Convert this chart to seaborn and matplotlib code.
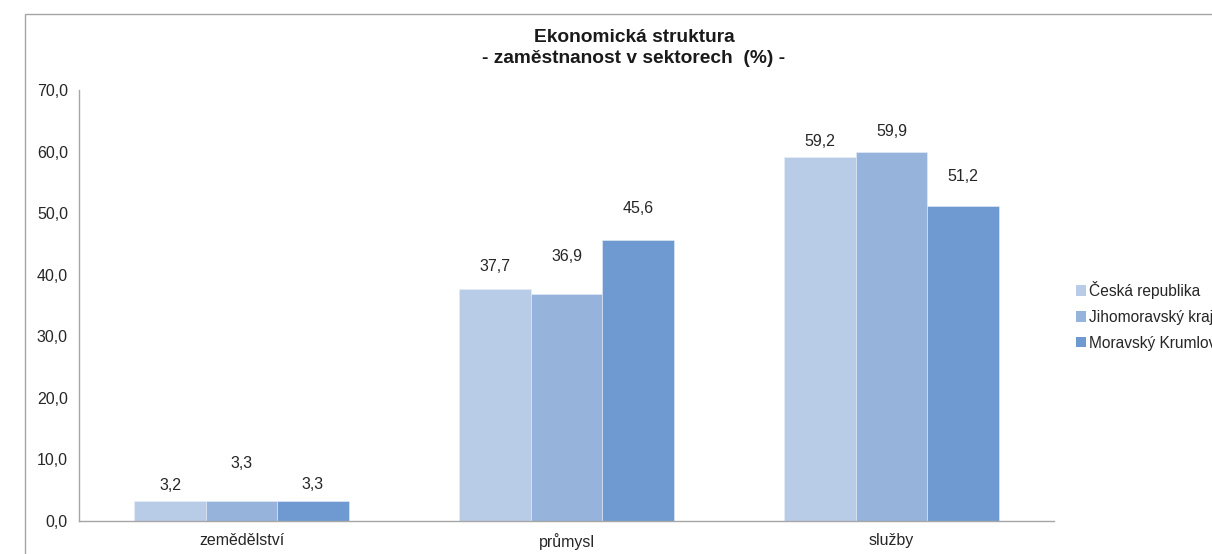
import pandas as pd
import matplotlib.pyplot as plt
import matplotlib.patches as patches
import seaborn as sns

sektory = ["zemědělství", "průmysl", "služby"]
uzemi = ["Česká republika", "Jihomoravský kraj", "Moravský Krumlov"]
cr = [3.2, 37.7, 59.2]
jmk = [3.3, 36.9, 59.9]
mk = [3.3, 45.6, 51.2]
y_ticks = [0, 10, 20, 30, 40, 50, 60, 70]

barvy = ["#B8CCE8", "#95B3DB", "#6F9AD1"]
# posun stredu popisku nad sloupcem v pixelech (jako v Excelu)
label_pad = [[16, 37, 16], [22, 37, 32], [15, 21, 29]]

dados = pd.DataFrame({
    "sektor": sektory * 3,
    "uzemi": [u for u in uzemi for _ in sektory],
    "hodnota": cr + jmk + mk,
})

sns.set_style("white")
plt.rcParams["font.family"] = ["Liberation Sans", "DejaVu Sans"]

fig = plt.figure(figsize=(12.12, 5.54), dpi=100)
ax = fig.add_axes([0.0652, 0.0596, 0.8044, 0.7779])

sns.barplot(data=dados, x="sektor", y="hodnota", hue="uzemi", order=sektory,
            hue_order=uzemi, palette=barvy, width=0.66, saturation=1,
            linewidth=0.4, edgecolor="#E8EEF7", ax=ax, legend=True)

for i, cont in enumerate(ax.containers):
    for j, bar in enumerate(cont):
        v = bar.get_height()
        ax.annotate(f"{v:.1f}".replace(".", ","),
                    (bar.get_x() + bar.get_width() / 2, v),
                    xytext=(0, label_pad[j][i]), textcoords="offset pixels",
                    ha="center", va="center", fontsize=11.5, color="#262626")

ax.set_xlim(-0.5, 2.5)
ax.set_ylim(0, 70)
ax.set_yticks(y_ticks)
ax.set_yticklabels([f"{t:.1f}".replace(".", ",") for t in y_ticks])
ax.set_xlabel("")
ax.set_ylabel("")
ax.tick_params(axis="both", labelsize=11.5, colors="#262626", length=0)
ax.tick_params(axis="y", pad=8)
ax.tick_params(axis="x", pad=9)
for s in ["top", "right"]:
    ax.spines[s].set_visible(False)
for s in ["left", "bottom"]:
    ax.spines[s].set_color("#A6A6A6")
    ax.spines[s].set_linewidth(1)

leg = ax.legend(loc="center left", frameon=False, fontsize=11.2,
                handlelength=0.65, handleheight=0.65, handletextpad=0.2,
                labelspacing=0.7, borderaxespad=0, borderpad=0)
leg.set_bbox_to_anchor((0.8875, 0.43), transform=fig.transFigure)
for h in leg.legend_handles:
    h.set_edgecolor("none")

fig.text(0.523, 0.913, "Ekonomická struktura\n- zaměstnanost v sektorech  (%) -",
         ha="center", va="center", fontsize=13.8, fontweight="bold",
         color="#1A1A1A", linespacing=1.3)

fig.patches.append(patches.Rectangle((25 / 1212, -0.1), 1.2, 1.1 - 14 / 554,
                                     transform=fig.transFigure, fill=False,
                                     edgecolor="#A6A6A6", linewidth=1))

fig.savefig("out.png", dpi=100)
